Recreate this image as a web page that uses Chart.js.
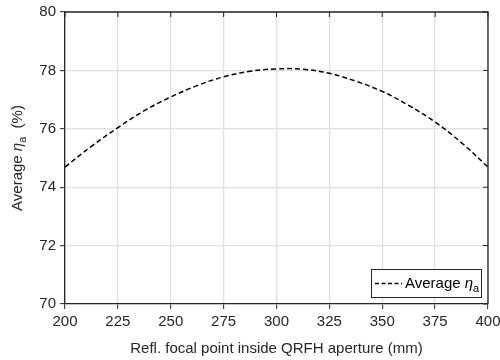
<!DOCTYPE html>
<html>
<head>
<meta charset="utf-8">
<script src="https://cdn.jsdelivr.net/npm/chart.js@4/dist/chart.umd.min.js"></script>
<style>
  html, body { margin: 0; padding: 0; background: #fff; }
  #wrap { width: 500px; height: 360px; }
</style>
</head>
<body>
<div id="wrap"><canvas id="c" width="500" height="360"></canvas></div>
<script>
// focal point position (mm) and average aperture efficiency (%)
const focalPos = [200, 212.5, 225, 237.5, 250, 262.5, 275, 287.5, 300, 312.5, 325, 337.5, 350, 362.5, 375, 387.5, 400];
const avgEff = [74.69, 75.40, 76.04, 76.62, 77.09, 77.48, 77.78, 77.97, 78.05, 78.04, 77.90, 77.63, 77.28, 76.80, 76.23, 75.52, 74.69];
const xTicks = [200, 225, 250, 275, 300, 325, 350, 375, 400];
const yTicks = [70, 72, 74, 76, 78, 80];

const FONT = "Liberation Sans, Arial, Helvetica, sans-serif";
const INK = "#262626";

// box frame, inward ticks on top/right, y title and legend with subscripts
const boxPlugin = {
  id: "box",
  afterDraw(chart) {
    const { ctx, chartArea: a, scales } = chart;
    ctx.save();
    ctx.strokeStyle = INK;
    ctx.lineWidth = 1.3;
    ctx.beginPath();
    ctx.moveTo(a.left, a.top); ctx.lineTo(a.right, a.top); ctx.lineTo(a.right, a.bottom);
    ctx.stroke();
    ctx.lineWidth = 1;
    ctx.beginPath();
    xTicks.forEach(v => {
      const px = scales.x.getPixelForValue(v);
      ctx.moveTo(px, a.top); ctx.lineTo(px, a.top + 5);
    });
    yTicks.forEach(v => {
      const py = scales.y.getPixelForValue(v);
      ctx.moveTo(a.right, py); ctx.lineTo(a.right - 5, py);
    });
    ctx.stroke();

    // y axis title
    ctx.fillStyle = INK;
    ctx.translate(22, (a.top + a.bottom) / 2);
    ctx.rotate(-Math.PI / 2);
    const f = "15px " + FONT, fi = "italic 15px " + FONT, fs = "11px " + FONT;
    const parts = [["Average ", f, 0], ["\u03b7", fi, 0], ["a", fs, 4], ["  (%)", f, 0]];
    let w = 0;
    parts.forEach(p => { ctx.font = p[1]; w += ctx.measureText(p[0]).width; });
    let x = -w / 2;
    ctx.textBaseline = "alphabetic";
    parts.forEach(p => { ctx.font = p[1]; ctx.fillText(p[0], x, p[2]); x += ctx.measureText(p[0]).width; });
    ctx.restore();

    // legend
    ctx.save();
    const lx = a.right - 117, ly = a.bottom - 35, lw = 110, lh = 28;
    ctx.fillStyle = "#fff";
    ctx.fillRect(lx, ly, lw, lh);
    ctx.strokeStyle = INK;
    ctx.lineWidth = 1;
    ctx.strokeRect(lx + 0.5, ly + 0.5, lw, lh);
    ctx.strokeStyle = "#000";
    ctx.lineWidth = 1.5;
    ctx.setLineDash([4, 2.5]);
    ctx.beginPath();
    ctx.moveTo(lx + 4, ly + 14.5); ctx.lineTo(lx + 31, ly + 14.5);
    ctx.stroke();
    ctx.setLineDash([]);
    ctx.fillStyle = "#000";
    let tx = lx + 34;
    const ty = ly + 19;
    [["Average ", f, 0], ["\u03b7", fi, 0], ["a", fs, 4]].forEach(p => {
      ctx.font = p[1]; ctx.fillText(p[0], tx, ty + p[2]); tx += ctx.measureText(p[0]).width;
    });
    ctx.restore();
  }
};

new Chart(document.getElementById("c"), {
  type: "line",
  data: {
    datasets: [{
      label: "Average",
      data: focalPos.map((x, i) => ({ x: x, y: avgEff[i] })),
      borderColor: "#000",
      borderWidth: 1.5,
      borderDash: [5, 3],
      pointRadius: 0,
      tension: 0.4,
      fill: false
    }]
  },
  options: {
    responsive: false,
    animation: false,
    layout: { padding: { top: 12, right: 12, left: 0, bottom: 0 } },
    plugins: { legend: { display: false }, tooltip: { enabled: false } },
    scales: {
      x: {
        type: "linear",
        min: 200, max: 400,
        afterFit(s) { s.height = 56; s.paddingLeft = 0; s.paddingRight = 0; },
        afterBuildTicks(s) { s.ticks = xTicks.map(v => ({ value: v })); },
        grid: { color: "#e0e0e0", lineWidth: 1.3, tickColor: INK, tickLength: 5, tickWidth: 1 },
        border: { color: INK, width: 1.3 },
        ticks: { color: INK, font: { family: FONT, size: 15 }, padding: 4, maxRotation: 0 },
        title: { display: true, text: "Refl. focal point inside QRFH aperture (mm)", color: INK,
                 font: { family: FONT, size: 15 }, padding: { top: 2, bottom: 2 } }
      },
      y: {
        type: "linear",
        min: 70, max: 80,
        afterFit(s) { s.width = 65; s.paddingTop = 0; s.paddingBottom = 0; },
        afterBuildTicks(s) { s.ticks = yTicks.map(v => ({ value: v })); },
        grid: { color: "#e0e0e0", lineWidth: 1.3, tickColor: INK, tickLength: 5, tickWidth: 1 },
        border: { color: INK, width: 1.3 },
        ticks: { color: INK, font: { family: FONT, size: 15 }, padding: 4 }
      }
    }
  },
  plugins: [boxPlugin]
});
</script>
</body>
</html>
